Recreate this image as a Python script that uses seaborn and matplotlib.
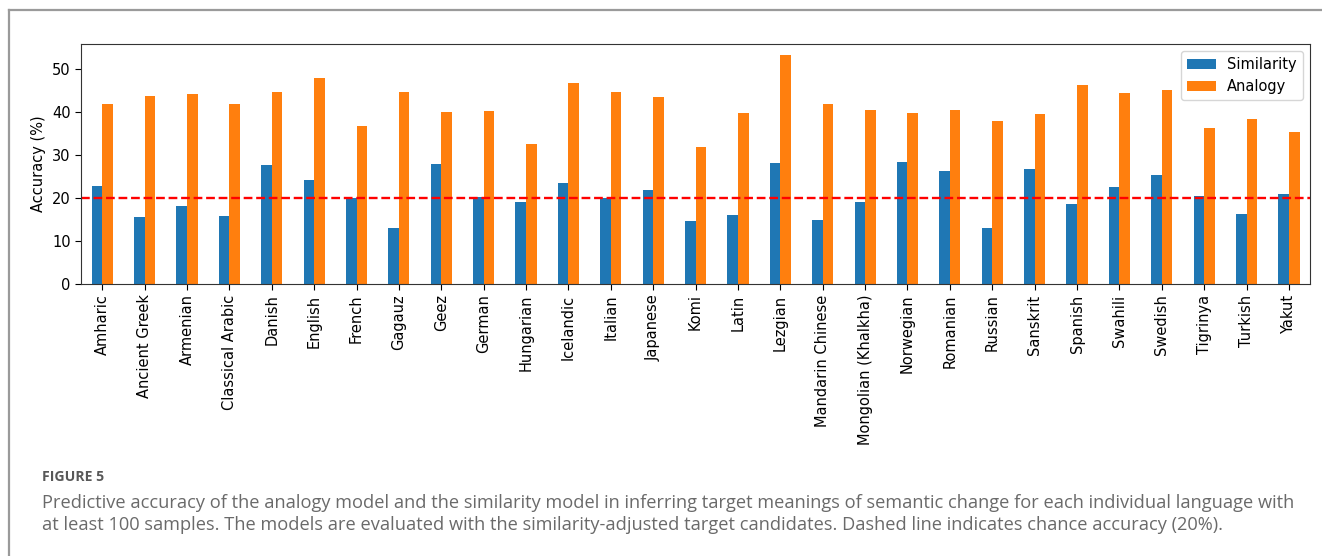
import matplotlib
matplotlib.use("Agg")
import matplotlib.pyplot as plt
from matplotlib.lines import Line2D
import seaborn as sns
import pandas as pd

languages = [
    "Amharic", "Ancient Greek", "Armenian", "Classical Arabic", "Danish",
    "English", "French", "Gagauz", "Geez", "German", "Hungarian",
    "Icelandic", "Italian", "Japanese", "Komi", "Latin", "Lezgian",
    "Mandarin Chinese", "Mongolian (Khalkha)", "Norwegian", "Romanian",
    "Russian", "Sanskrit", "Spanish", "Swahili", "Swedish", "Tigrinya",
    "Turkish", "Yakut",
]
similarity = [
    22.9, 15.5, 18.2, 15.8, 27.6, 24.2, 20.1, 13.1, 27.9, 20.3, 19.1,
    23.5, 20.1, 21.8, 14.6, 16.1, 28.1, 14.9, 19.1, 28.3, 26.4, 13.1,
    26.8, 18.6, 22.5, 25.3, 20.4, 16.4, 21.0,
]
analogy = [
    42.0, 43.7, 44.3, 41.8, 44.7, 47.9, 36.8, 44.7, 40.0, 40.3, 32.5,
    46.7, 44.8, 43.6, 31.9, 39.8, 53.2, 41.9, 40.4, 39.8, 40.5, 38.0,
    39.5, 46.4, 44.4, 45.1, 36.3, 38.3, 35.3,
]
models = ["Similarity", "Analogy"]
chance = 20

df = pd.DataFrame({
    "language": languages * 2,
    "model": [models[0]] * len(languages) + [models[1]] * len(languages),
    "accuracy": similarity + analogy,
})

fig = plt.figure(figsize=(13.22, 5.56), dpi=100)
ax = fig.add_axes([0.0613, 0.4892, 0.9297, 0.4317])

sns.barplot(
    data=df, x="language", y="accuracy", hue="model", hue_order=models,
    order=languages, palette=["#1f77b4", "#ff7f0e"], saturation=1,
    width=0.5, errorbar=None, linewidth=0, ax=ax,
)

ax.axhline(chance, color="red", linestyle="--", linewidth=1.7)
ax.set_xlim(-0.5, len(languages) - 0.5)
ax.set_ylim(0, max(analogy) * 1.05)
ax.set_yticks([0, 10, 20, 30, 40, 50])
ax.set_xlabel("")
ax.set_ylabel("Accuracy (%)", fontsize=10.5)
ax.tick_params(axis="both", labelsize=10.5, length=4)
plt.setp(ax.get_xticklabels(), rotation=90)
for s in ax.spines.values():
    s.set_color("#333333")
ax.legend(loc="upper right", fontsize=10.5, title=None)

# page frame around the figure panel
fig.add_artist(Line2D([9 / 1322, 9 / 1322], [0, 1 - 10 / 556],
                      transform=fig.transFigure, color="#9a9a9a", linewidth=1.6))
fig.add_artist(Line2D([9 / 1322, 1], [1 - 10 / 556, 1 - 10 / 556],
                      transform=fig.transFigure, color="#9a9a9a", linewidth=1.6))

cap_x = 42.5 / 1322
fig.text(cap_x, 1 - 481 / 556, "FIGURE 5", fontsize=10.1, fontweight="bold",
         family="Open Sans", color="#585858", va="baseline")
fig.text(cap_x, 1 - 508 / 556,
         "Predictive accuracy of the analogy model and the similarity model in inferring "
         "target meanings of semantic change for each individual language with",
         fontsize=13.18, family="Open Sans", color="#6a6a6a", va="baseline")
fig.text(cap_x, 1 - 530 / 556,
         "at least 100 samples. The models are evaluated with the similarity-adjusted "
         "target candidates. Dashed line indicates chance accuracy (20%).",
         fontsize=13.18, family="Open Sans", color="#6a6a6a", va="baseline")

fig.savefig("out.png", dpi=100)
